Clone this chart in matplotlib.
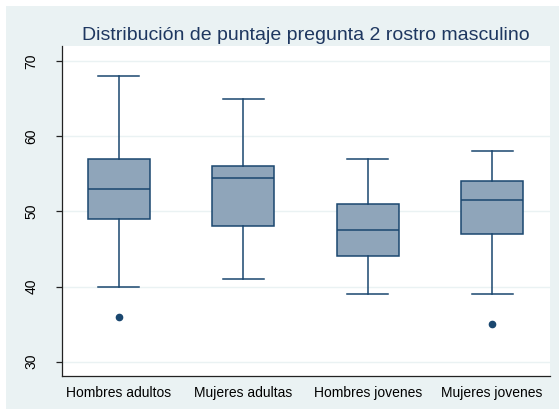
import matplotlib
matplotlib.use('Agg')
import matplotlib.pyplot as plt
from matplotlib.patches import Rectangle

categories = ["Hombres adultos", "Mujeres adultas", "Hombres jovenes", "Mujeres jovenes"]
whislo = [40, 41, 39, 39]
q1 = [49, 48, 44, 47]
med = [53, 54.5, 47.5, 51.5]
q3 = [57, 56, 51, 54]
whishi = [68, 65, 57, 58]
fliers = [[36], [], [], [35]]
yticks = [30, 40, 50, 60, 70]
title = "Distribución de puntaje pregunta 2 rostro masculino"

plt.rcParams['font.family'] = ['Liberation Sans', 'DejaVu Sans']

W, H = 559, 409
fig = plt.figure(figsize=(W / 100, H / 100), dpi=100, facecolor='white')
fig.patches.append(Rectangle((6 / W, 0), 1 - 6 / W, 1 - 6 / H, transform=fig.transFigure,
                             facecolor='#EAF2F3', edgecolor='none', zorder=-10))

ax = fig.add_axes([62 / W, 1 - 376 / H, (550 - 62) / W, (376 - 46) / H])
ax.set_facecolor('white')

navy = '#1A476F'
fill = '#8FA5BA'

stats = []
for i, c in enumerate(categories):
    stats.append(dict(label=c, whislo=whislo[i], q1=q1[i], med=med[i], q3=q3[i],
                      whishi=whishi[i], fliers=fliers[i]))

positions = list(range(1, len(categories) + 1))
ax.bxp(stats, positions=positions, widths=0.5, capwidths=0.33, patch_artist=True,
       showfliers=True,
       boxprops=dict(facecolor=fill, edgecolor=navy, linewidth=1.1),
       medianprops=dict(color=navy, linewidth=1.1),
       whiskerprops=dict(color=navy, linewidth=1.1),
       capprops=dict(color=navy, linewidth=1.1),
       flierprops=dict(marker='o', markerfacecolor=navy, markeredgecolor=navy,
                       markersize=4.5, linestyle='none'))

ax.set_xlim(0.542, 4.466)
ax.set_ylim(28.1, 72.0)
ax.set_yticks(yticks)
ax.set_yticklabels([str(t) for t in yticks], rotation=90, va='center')
ax.set_xticks(positions)
ax.set_xticklabels(categories)

ax.yaxis.grid(True, color='#EAF2F3', linewidth=1.0)
ax.set_axisbelow(True)

for s in ['top', 'right']:
    ax.spines[s].set_visible(False)
for s in ['left', 'bottom']:
    ax.spines[s].set_color('#222222')
    ax.spines[s].set_linewidth(0.9)

ax.tick_params(axis='y', length=4, width=0.9, color='#222222', pad=13, labelsize=10, labelcolor='black')
ax.tick_params(axis='x', length=0, pad=7, labelsize=10, labelcolor='black')

fig.text((62 + 550) / 2 / W, 1 - 40 / H, title, ha='center', va='baseline',
         fontsize=14, color='#1E3760')

fig.savefig('out.png', dpi=100, facecolor=fig.get_facecolor())
